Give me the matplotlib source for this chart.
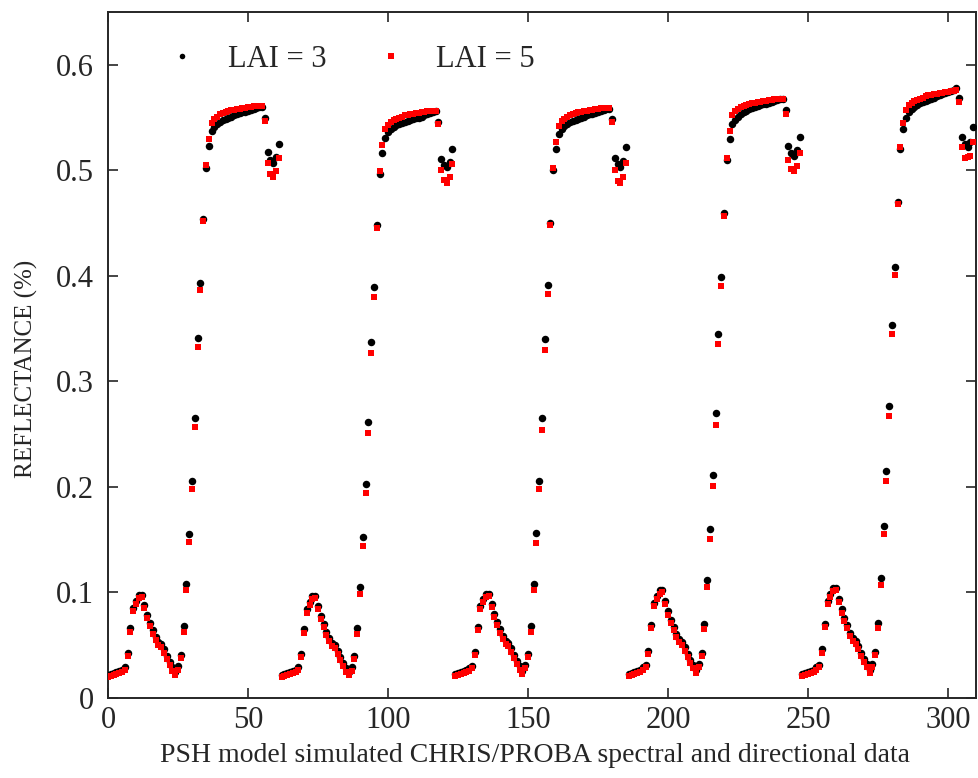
import matplotlib
matplotlib.use("Agg")
import matplotlib.pyplot as plt
import numpy as np

plt.rcParams["font.family"] = ["Liberation Serif", "DejaVu Serif"]

# ── reflectance for the five CHRIS/PROBA view angles (62 bands each) ────────
lai3_view1 = [0.022, 0.023, 0.024, 0.025, 0.026, 0.027, 0.029, 0.043, 0.066, 0.085,
              0.092, 0.098, 0.098, 0.088, 0.079, 0.071, 0.064, 0.058, 0.053, 0.051,
              0.046, 0.040, 0.034, 0.029, 0.025, 0.030, 0.041, 0.068, 0.108, 0.155,
              0.206, 0.265, 0.341, 0.393, 0.454, 0.502, 0.523, 0.537, 0.541, 0.544,
              0.546, 0.548, 0.549, 0.550, 0.551, 0.552, 0.553, 0.554, 0.555, 0.555,
              0.556, 0.557, 0.558, 0.559, 0.560, 0.560, 0.550, 0.517, 0.510, 0.507,
              0.513, 0.525]
lai5_view1 = [0.020, 0.021, 0.022, 0.023, 0.024, 0.025, 0.027, 0.040, 0.063, 0.082,
              0.089, 0.095, 0.096, 0.085, 0.076, 0.068, 0.061, 0.055, 0.050, 0.048,
              0.043, 0.037, 0.031, 0.026, 0.022, 0.027, 0.038, 0.063, 0.102, 0.148,
              0.198, 0.257, 0.333, 0.387, 0.452, 0.505, 0.530, 0.545, 0.549, 0.551,
              0.553, 0.554, 0.555, 0.556, 0.557, 0.557, 0.558, 0.558, 0.559, 0.559,
              0.560, 0.560, 0.561, 0.561, 0.561, 0.561, 0.547, 0.507, 0.497, 0.494,
              0.499, 0.512]

lai3_view2 = [0.022, 0.023, 0.024, 0.025, 0.026, 0.027, 0.029, 0.042, 0.065, 0.084,
              0.091, 0.097, 0.097, 0.087, 0.078, 0.070, 0.063, 0.057, 0.052, 0.050,
              0.045, 0.039, 0.033, 0.028, 0.025, 0.029, 0.040, 0.066, 0.105, 0.153,
              0.203, 0.262, 0.337, 0.389, 0.448, 0.497, 0.516, 0.531, 0.536, 0.539,
              0.541, 0.543, 0.544, 0.545, 0.546, 0.547, 0.548, 0.549, 0.550, 0.550,
              0.551, 0.552, 0.553, 0.554, 0.555, 0.556, 0.546, 0.511, 0.505, 0.503,
              0.508, 0.520]
lai5_view2 = [0.020, 0.021, 0.022, 0.023, 0.024, 0.025, 0.027, 0.039, 0.062, 0.081,
              0.088, 0.094, 0.095, 0.084, 0.075, 0.067, 0.060, 0.054, 0.049, 0.047,
              0.042, 0.036, 0.030, 0.025, 0.022, 0.026, 0.037, 0.061, 0.099, 0.144,
              0.194, 0.251, 0.327, 0.380, 0.445, 0.499, 0.524, 0.539, 0.543, 0.546,
              0.548, 0.549, 0.550, 0.551, 0.552, 0.552, 0.553, 0.553, 0.554, 0.554,
              0.555, 0.555, 0.556, 0.556, 0.556, 0.556, 0.544, 0.500, 0.491, 0.488,
              0.494, 0.506]

lai3_view3 = [0.023, 0.024, 0.025, 0.026, 0.027, 0.028, 0.030, 0.044, 0.067, 0.087,
              0.094, 0.099, 0.099, 0.089, 0.080, 0.072, 0.065, 0.059, 0.054, 0.052,
              0.047, 0.041, 0.035, 0.030, 0.026, 0.031, 0.042, 0.068, 0.108, 0.156,
              0.206, 0.265, 0.340, 0.391, 0.450, 0.500, 0.520, 0.534, 0.539, 0.542,
              0.544, 0.546, 0.547, 0.548, 0.549, 0.550, 0.551, 0.552, 0.553, 0.553,
              0.554, 0.555, 0.556, 0.557, 0.558, 0.558, 0.549, 0.512, 0.506, 0.503,
              0.509, 0.522]
lai5_view3 = [0.021, 0.022, 0.023, 0.024, 0.025, 0.026, 0.028, 0.041, 0.064, 0.084,
              0.091, 0.096, 0.097, 0.086, 0.077, 0.069, 0.062, 0.056, 0.051, 0.049,
              0.044, 0.038, 0.032, 0.027, 0.023, 0.028, 0.039, 0.063, 0.102, 0.147,
              0.198, 0.254, 0.330, 0.383, 0.448, 0.502, 0.527, 0.542, 0.547, 0.549,
              0.551, 0.552, 0.553, 0.554, 0.555, 0.555, 0.556, 0.556, 0.557, 0.557,
              0.558, 0.558, 0.559, 0.559, 0.559, 0.559, 0.546, 0.500, 0.490, 0.488,
              0.494, 0.507]

lai3_view4 = [0.023, 0.024, 0.025, 0.026, 0.027, 0.029, 0.031, 0.045, 0.069, 0.090,
              0.097, 0.102, 0.102, 0.092, 0.082, 0.074, 0.067, 0.061, 0.056, 0.053,
              0.048, 0.042, 0.036, 0.031, 0.027, 0.032, 0.043, 0.070, 0.112, 0.160,
              0.211, 0.270, 0.345, 0.399, 0.460, 0.510, 0.530, 0.544, 0.548, 0.551,
              0.553, 0.555, 0.556, 0.558, 0.559, 0.560, 0.561, 0.562, 0.563, 0.563,
              0.564, 0.565, 0.566, 0.567, 0.568, 0.568, 0.557, 0.523, 0.516, 0.514,
              0.519, 0.532]
lai5_view4 = [0.021, 0.022, 0.023, 0.024, 0.025, 0.027, 0.029, 0.042, 0.066, 0.087,
              0.094, 0.099, 0.100, 0.089, 0.079, 0.071, 0.064, 0.058, 0.053, 0.050,
              0.045, 0.039, 0.033, 0.028, 0.024, 0.029, 0.040, 0.065, 0.105, 0.151,
              0.201, 0.259, 0.335, 0.390, 0.457, 0.512, 0.537, 0.552, 0.556, 0.558,
              0.560, 0.561, 0.562, 0.563, 0.564, 0.564, 0.565, 0.565, 0.566, 0.566,
              0.567, 0.567, 0.568, 0.568, 0.568, 0.568, 0.553, 0.510, 0.501, 0.499,
              0.504, 0.516]

lai3_view5 = [0.023, 0.024, 0.025, 0.026, 0.027, 0.029, 0.031, 0.046, 0.070, 0.092,
              0.099, 0.104, 0.104, 0.094, 0.084, 0.076, 0.069, 0.062, 0.057, 0.054,
              0.049, 0.043, 0.037, 0.032, 0.027, 0.032, 0.044, 0.071, 0.114, 0.163,
              0.215, 0.277, 0.353, 0.408, 0.470, 0.520, 0.539, 0.550, 0.555, 0.558,
              0.560, 0.562, 0.564, 0.565, 0.566, 0.567, 0.568, 0.569, 0.570, 0.571,
              0.572, 0.573, 0.574, 0.575, 0.576, 0.578, 0.569, 0.532, 0.525, 0.522,
              0.527, 0.541]
lai5_view5 = [0.021, 0.022, 0.023, 0.024, 0.025, 0.027, 0.029, 0.043, 0.067, 0.089,
              0.096, 0.101, 0.102, 0.091, 0.081, 0.073, 0.066, 0.059, 0.054, 0.051,
              0.046, 0.040, 0.034, 0.029, 0.024, 0.029, 0.041, 0.066, 0.107, 0.155,
              0.206, 0.267, 0.345, 0.401, 0.468, 0.522, 0.545, 0.557, 0.562, 0.564,
              0.566, 0.567, 0.568, 0.569, 0.570, 0.571, 0.571, 0.572, 0.572, 0.573,
              0.573, 0.574, 0.574, 0.575, 0.575, 0.576, 0.565, 0.522, 0.512, 0.513,
              0.514, 0.527]

lai3 = np.concatenate([lai3_view1, lai3_view2, lai3_view3, lai3_view4, lai3_view5])
lai5 = np.concatenate([lai5_view1, lai5_view2, lai5_view3, lai5_view4, lai5_view5])
band = np.arange(len(lai3))

x_ticks = [0, 50, 100, 150, 200, 250, 300]
y_ticks = [0, 0.1, 0.2, 0.3, 0.4, 0.5, 0.6]
y_tick_labels = ["0", "0.1", "0.2", "0.3", "0.4", "0.5", "0.6"]

AXIS_COL = "#262626"

fig = plt.figure(figsize=(9.79, 7.78), dpi=100, facecolor="white")
ax = fig.add_axes([0.1103, 0.1028, 0.8866, 0.8817])

ax.plot(band, lai3, linestyle="none", marker="o", markersize=5.4,
        color="black", markeredgewidth=0, label="LAI = 3", zorder=3)
ax.plot(band, lai5, linestyle="none", marker="s", markersize=4.0,
        color="#ff0000", markeredgewidth=0, label="LAI = 5", zorder=4)

ax.set_xlim(0, 310)
ax.set_ylim(0, 0.65)
ax.set_xticks(x_ticks)
ax.set_yticks(y_ticks)
ax.set_yticklabels(y_tick_labels)
ax.tick_params(direction="in", length=7, width=1.2, top=True, right=True,
               labelsize=22, colors=AXIS_COL)
ax.tick_params(axis="x", pad=6)
ax.tick_params(axis="y", pad=10)
for spine in ax.spines.values():
    spine.set_linewidth(1.4)
    spine.set_color(AXIS_COL)

ax.set_xlabel("PSH model simulated CHRIS/PROBA spectral and directional data",
              fontsize=20, color=AXIS_COL)
ax.xaxis.set_label_coords(0.492, -0.065)
ax.set_ylabel("REFLECTANCE (%)", fontsize=18, color=AXIS_COL)
ax.yaxis.set_label_coords(-0.081, 0.48)

leg = ax.legend(loc="upper left", bbox_to_anchor=(0.05, 0.952), ncol=2,
                frameon=False, fontsize=22, handlelength=2.0, handletextpad=0.5,
                columnspacing=1.1, borderpad=0, borderaxespad=0,
                labelcolor=AXIS_COL)
for h in leg.legend_handles:
    h.set_markersize(4.0)

fig.savefig("out.png", dpi=100, facecolor="white")
